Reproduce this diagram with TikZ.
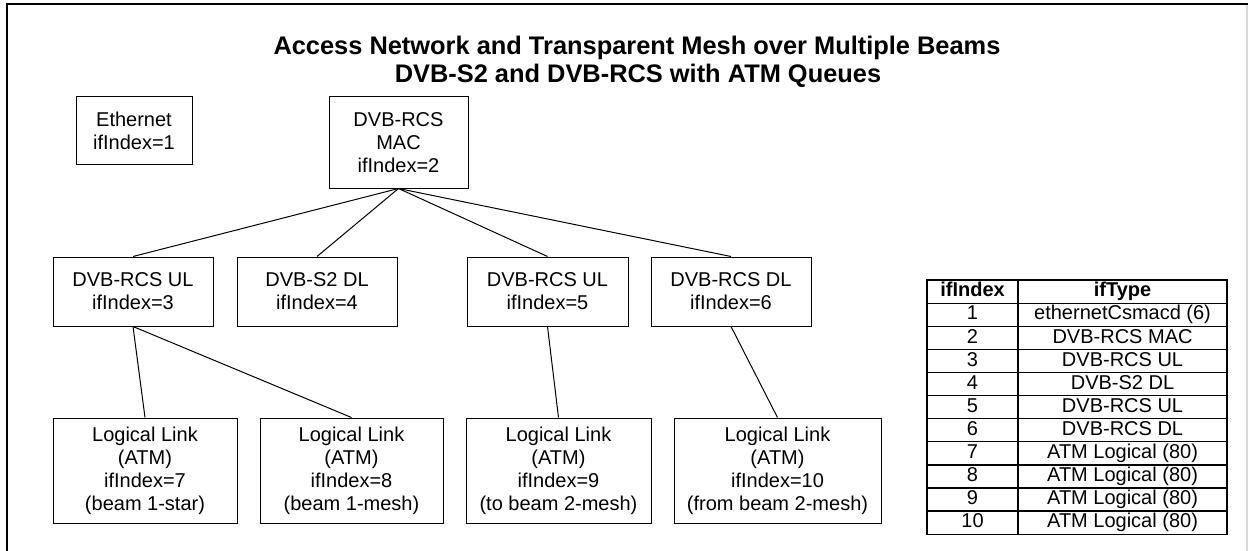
\documentclass[tikz,border=0pt]{standalone}
\usepackage{fontspec}
\setmainfont{Liberation Sans}
\usetikzlibrary{matrix}
\begin{document}
\begin{tikzpicture}[x=0.5pt,y=-0.5pt,
  box/.style={draw, line width=0.5pt, inner sep=0pt, align=center,
    font=\fontsize{10}{11.5}\selectfont},
  link/.style={line width=0.5pt},
  heading/.style={anchor=base, font=\bfseries\fontsize{12.7}{14}\selectfont},
  cell/.style={draw, line width=0.65pt, inner sep=0pt, minimum height=11.55pt,
    text height=7.3pt, text depth=2.1pt, font=\fontsize{10}{11.5}\selectfont}]
\useasboundingbox (0,0) rectangle (1248,551);

% outer frame
\coordinate (frTL) at (7,4);
\coordinate (frTR) at (1248,4);
\coordinate (frBL) at (7,551);
\coordinate (edgeT) at (1247,4);
\coordinate (edgeB) at (1247,551);
\draw[gray!30, line width=1pt] (edgeT) -- (edgeB);
\draw[line width=0.7pt] (frBL) -- (frTL) -- (frTR);

% headings
\node[heading] (title1) at (637,55) {Access Network and Transparent Mesh over Multiple Beams};
\node[heading] (title2) at (638,83) {DVB-S2 and DVB-RCS with ATM Queues};

% interface boxes
\node[box, minimum width=58pt, minimum height=34pt] (eth) at (134,131) {Ethernet\\ifIndex=1};
\node[box, minimum width=69.5pt, minimum height=45.5pt] (mac) at (398.5,142.5) {DVB-RCS\\MAC\\ifIndex=2};

\node[box, minimum width=80pt, minimum height=34.5pt] (ul3) at (133,291.5) {DVB-RCS UL\\ifIndex=3};
\node[box, minimum width=80pt, minimum height=34.5pt] (s2) at (317,291.5) {DVB-S2 DL\\ifIndex=4};
\node[box, minimum width=80.5pt, minimum height=34.5pt] (ul5) at (547.5,291.5) {DVB-RCS UL\\ifIndex=5};
\node[box, minimum width=80pt, minimum height=34.5pt] (dl6) at (731,291.5) {DVB-RCS DL\\ifIndex=6};

\node[box, minimum width=92pt, minimum height=52.5pt] (ll7) at (145,470.5) {Logical Link\\(ATM)\\ifIndex=7\\(beam 1-star)};
\node[box, minimum width=91.5pt, minimum height=52.5pt] (ll8) at (351.5,470.5) {Logical Link\\(ATM)\\ifIndex=8\\(beam 1-mesh)};
\node[box, minimum width=92.5pt, minimum height=52.5pt] (ll9) at (558.5,470.5) {Logical Link\\(ATM)\\ifIndex=9\\(to beam 2-mesh)};
\node[box, minimum width=103.5pt, minimum height=52.5pt] (ll10) at (777.5,470.5) {Logical Link\\(ATM)\\ifIndex=10\\(from beam 2-mesh)};

% stacking relations
\foreach \c in {ul3,s2,ul5,dl6}
  \draw[link] (mac.south) -- (\c.north);
\draw[link] (ul3.south) -- (ll7.north);
\draw[link] (ul3.south) -- (ll8.north);
\draw[link] (ul5.south) -- (ll9.north);
\draw[link] (dl6.south) -- (ll10.north);

% ifIndex / ifType table
\matrix (tbl) [matrix of nodes, anchor=north west, inner sep=0pt,
  column sep=-0.65pt, row sep=-0.65pt, nodes={cell},
  column 1/.style={nodes={minimum width=45.5pt}},
  column 2/.style={nodes={minimum width=104.5pt}},
  row 1/.style={nodes={font=\bfseries\fontsize{10}{11.5}\selectfont}}]
  at (926,279) {
  ifIndex & ifType \\
  1 & ethernetCsmacd (6) \\
  2 & DVB-RCS MAC \\
  3 & DVB-RCS UL \\
  4 & DVB-S2 DL \\
  5 & DVB-RCS UL \\
  6 & DVB-RCS DL \\
  7 & ATM Logical (80) \\
  8 & ATM Logical (80) \\
  9 & ATM Logical (80) \\
  10 & ATM Logical (80) \\
};
\end{tikzpicture}
\end{document}
